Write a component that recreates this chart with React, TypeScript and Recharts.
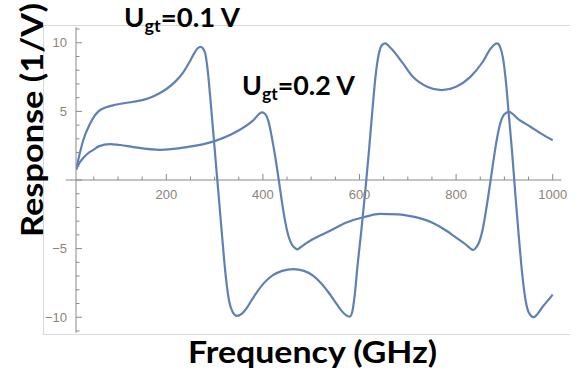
import React from 'react';
import { LineChart, Line, XAxis, YAxis, ReferenceLine, ReferenceDot } from 'recharts';

// U_gt = 0.1 V
const freqA = [13, 28, 42, 63, 97, 132, 150, 166, 184, 201, 218, 235, 248, 258, 265, 271, 280, 285, 292, 300, 308, 316, 323, 330, 337, 346, 356, 366, 376, 388, 401, 420, 440, 463, 485, 505, 520, 536, 550, 562, 572, 580, 585, 590, 596, 604, 612, 620, 627, 633, 640, 647, 653, 665, 690, 711, 740, 770, 800, 829, 855, 872, 885, 891, 897, 903, 909, 916, 923, 930, 937, 944, 951, 960, 980, 1000];
const respA = [0.75, 2.9, 4.1, 5.1, 5.5, 5.7, 5.82, 6.0, 6.28, 6.65, 7.15, 7.85, 8.6, 9.25, 9.6, 9.7, 9.3, 8.2, 5.6, 2.3, -1.0, -4.3, -7.0, -8.8, -9.6, -9.9, -9.75, -9.35, -8.8, -8.15, -7.55, -6.95, -6.62, -6.5, -6.62, -7.0, -7.5, -8.2, -8.9, -9.5, -9.85, -9.95, -9.6, -8.4, -6.2, -3.6, -0.8, 2.3, 5.2, 7.5, 9.2, 9.85, 9.95, 9.6, 8.5, 7.5, 6.8, 6.55, 6.8, 7.5, 8.6, 9.6, 9.95, 9.7, 8.9, 7.2, 4.8, 2.0, -1.2, -4.2, -6.9, -8.8, -9.7, -10.0, -9.2, -8.35];

// U_gt = 0.2 V
const freqB = [13, 20, 28, 38, 49, 60, 83, 105, 132, 187, 242, 297, 339, 380, 398, 405, 412, 418, 425, 432, 439, 446, 453, 460, 466, 471, 478, 490, 504, 539, 573, 610, 642, 680, 711, 750, 780, 800, 820, 830, 836, 842, 848, 855, 862, 869, 876, 884, 892, 900, 909, 930, 953, 975, 1000];
const respB = [0.75, 1.25, 1.6, 1.95, 2.2, 2.45, 2.62, 2.55, 2.4, 2.2, 2.4, 2.8, 3.4, 4.35, 4.93, 4.8, 4.2, 3.2, 1.8, 0.2, -1.5, -3.0, -4.1, -4.7, -4.95, -5.05, -4.9, -4.6, -4.3, -3.7, -3.1, -2.7, -2.47, -2.5, -2.67, -3.1, -3.7, -4.2, -4.7, -5.0, -5.1, -4.9, -4.5, -3.6, -2.2, -0.6, 1.1, 2.9, 4.2, 4.8, 4.97, 4.4, 3.9, 3.4, 2.9];

const freqMajorTicks = [200, 400, 600, 800, 1000];
const freqMinorTicks = [50, 100, 150, 250, 300, 350, 450, 500, 550, 650, 700, 750, 850, 900, 950];
const respTicks = [-11, -10, -9, -8, -7, -6, -5, -4, -3, -2, -1, 0, 1, 2, 3, 4, 5, 6, 7, 8, 9, 10, 11];

const xLabel = 'Frequency (GHz)';
const yLabel = 'Response (1/V)';

const dataA = freqA.map((x, i) => ({ x, y: respA[i] }));
const dataB = freqB.map((x, i) => ({ x, y: respB[i] }));

const CURVE = '#5e81b5';
const AXIS = '#8a8a8a';
const TICK_TEXT = '#8d8378';
const TICK_FONT = '"Liberation Sans", Arial, sans-serif';
const TITLE_FONT = 'Lato, "Open Sans", sans-serif';

const YTick = (props: any) => {
  const { x, y, payload } = props;
  const v = payload.value as number;
  const major = v % 5 === 0;
  return (
    <g>
      <line x1={x} y1={y} x2={x + (major ? 6 : 3.5)} y2={y} stroke={AXIS} strokeWidth={1} />
      {major && v !== 0 && (
        <text x={x - 9} y={y} dy="0.36em" textAnchor="end" fill={TICK_TEXT} fontSize={13} fontFamily={TICK_FONT}>
          {v < 0 ? '\u2212' + Math.abs(v) : String(v)}
        </text>
      )}
    </g>
  );
};

export default function App() {
  return (
    <div style={{ position: 'absolute', left: 0, top: 0, width: 587, height: 372, background: '#fff' }}>
      <div
        style={{
          position: 'absolute',
          left: 43,
          top: 25,
          width: 527,
          height: 310,
          borderTop: '1px solid #d9d9d9',
          borderLeft: '1px solid #d9d9d9',
          borderBottom: '1px solid #d9d9d9',
          boxSizing: 'border-box',
        }}
      />
      <div style={{ position: 'absolute', left: 0, top: 0 }}>
        <LineChart width={587} height={372} margin={{ top: 27, right: 25.6, bottom: 39, left: 0 }}>
          <XAxis dataKey="x" type="number" domain={[13, 1018]} allowDataOverflow hide />
          <YAxis
            type="number"
            domain={[-11.15, 11.15]}
            allowDataOverflow
            width={76}
            ticks={respTicks}
            interval={0}
            tickSize={0}
            tickMargin={0}
            tickLine={false}
            axisLine={{ stroke: AXIS, strokeWidth: 1 }}
            tick={<YTick />}
          />
          <ReferenceLine
            segment={[{ x: -8, y: 0 }, { x: 1018, y: 0 }]}
            stroke={AXIS}
            strokeWidth={1}
            ifOverflow="visible"
          />
          {freqMinorTicks.map((f) => (
            <ReferenceLine key={'mi' + f} segment={[{ x: f, y: 0 }, { x: f, y: 0.25 }]} stroke={AXIS} strokeWidth={1} />
          ))}
          {freqMajorTicks.map((f) => (
            <ReferenceLine key={'ma' + f} segment={[{ x: f, y: 0 }, { x: f, y: 0.44 }]} stroke={AXIS} strokeWidth={1} />
          ))}
          {freqMajorTicks.map((f) => (
            <ReferenceDot
              key={'lb' + f}
              x={f}
              y={0}
              r={0}
              fill="none"
              stroke="none"
              label={{ value: String(f), position: 'bottom', offset: 10, fill: TICK_TEXT, fontSize: 13, fontFamily: TICK_FONT }}
            />
          ))}
          <Line data={dataA} dataKey="y" type="monotone" stroke={CURVE} strokeWidth={2.2} dot={false} isAnimationActive={false} />
          <Line data={dataB} dataKey="y" type="monotone" stroke={CURVE} strokeWidth={2.2} dot={false} isAnimationActive={false} />
        </LineChart>
      </div>
      <svg width={587} height={372} style={{ position: 'absolute', left: 0, top: 0, pointerEvents: 'none' }}>
        <text
          transform="translate(43,120) rotate(-90)"
          textAnchor="middle"
          fontFamily={TITLE_FONT}
          fontWeight={700}
          fontSize={31}
          fill="#000"
          textLength={234}
          lengthAdjust="spacingAndGlyphs"
        >
          {yLabel}
        </text>
        <text
          x={312.5}
          y={363}
          textAnchor="middle"
          fontFamily={TITLE_FONT}
          fontWeight={700}
          fontSize={31}
          fill="#000"
          textLength={249}
          lengthAdjust="spacingAndGlyphs"
        >
          {xLabel}
        </text>
        <text x={124} y={27} fontFamily={TITLE_FONT} fontWeight={700} fontSize={26} fill="#000" textLength={116} lengthAdjust="spacingAndGlyphs">
          U
          <tspan fontSize={17} dy={5}>gt</tspan>
          <tspan dy={-5}>=0.1 V</tspan>
        </text>
        <text x={242} y={95} fontFamily={TITLE_FONT} fontWeight={700} fontSize={26} fill="#000" textLength={113} lengthAdjust="spacingAndGlyphs">
          U
          <tspan fontSize={17} dy={5}>gt</tspan>
          <tspan dy={-5}>=0.2 V</tspan>
        </text>
      </svg>
    </div>
  );
}
